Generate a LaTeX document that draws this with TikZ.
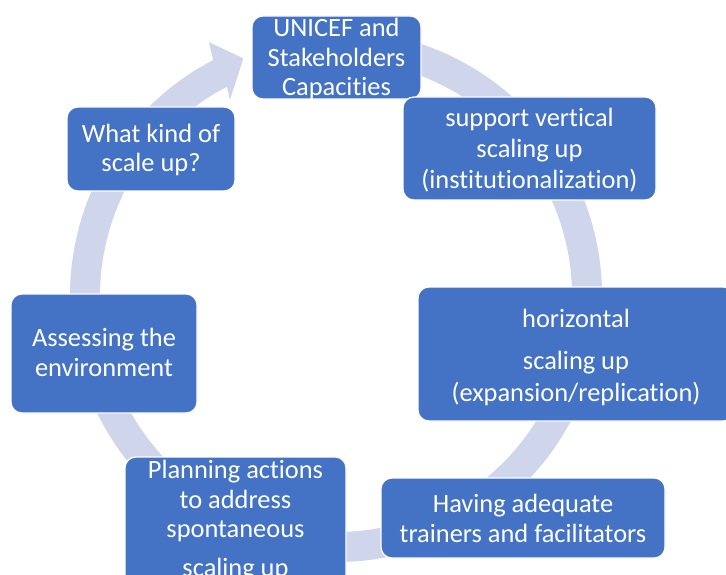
\documentclass[tikz,border=0pt]{standalone}
\usepackage{fontspec}
\setmainfont{Carlito}[Ligatures=NoCommon]
\usetikzlibrary{calc}
\definecolor{boxblue}{HTML}{4472C4}
\definecolor{ringlav}{HTML}{CFD5EA}
\begin{document}
\begin{tikzpicture}[x=1pt,y=1pt,
  stage/.style={draw=white, line width=1.2pt, fill=boxblue, rounded corners=11pt, inner sep=0pt},
  stagetext/.style={text=white, align=center, inner sep=0pt,
    font=\fontsize{26.4}{29.5}\selectfont},
  ring/.style={fill=ringlav}]
\clip (0,0) rectangle (726,-575);
% circular arrow behind the stages
\coordinate (c) at (336,-296);
\fill[ring] ($(c)+(78:266)$) arc[start angle=78, end angle=-242.5, radius=266]
  -- ($(c)+(-243.4:284)$) -- ($(c)+(-248.7:255)$) -- ($(c)+(-241.6:223)$)
  -- ($(c)+(-242.5:236)$) arc[start angle=-242.5, end angle=78, radius=236] -- cycle;
% stages
\node[stage, minimum width=169pt, minimum height=83pt] (unicef) at (336.5,-57.5) {};
\node[stagetext] (unicef-t) at (336.5,-59) {UNICEF and\\Stakeholders\\Capacities};
\node[stage, minimum width=253pt, minimum height=103pt] (vert) at (529.5,-148.5) {};
\node[stagetext, font=\fontsize{26.4}{31}\selectfont] (vert-t) at (529.5,-150) {support vertical\\scaling up\\(institutionalization)};
\node[stage, minimum width=316pt, minimum height=134pt] (horiz) at (576,-354) {};
\node[stagetext, font=\fontsize{26.4}{32}\selectfont] (horiz-t) at (576,-357) {horizontal\\[10pt]scaling up\\(expansion/replication)};
\node[stage, minimum width=284pt, minimum height=80pt] (train) at (523,-518) {};
\node[stagetext] (train-t) at (523,-518.5) {Having adequate\\trainers and facilitators};
\node[stage, minimum width=221pt, minimum height=150pt] (plan) at (235.5,-532) {};
\node[stagetext, anchor=north] (plan-t) at (235.5,-460) {Planning actions\\to address\\spontaneous\\[9pt]scaling up};
\node[stage, minimum width=186pt, minimum height=119pt] (env) at (104,-353.5) {};
\node[stagetext] (env-t) at (104,-352.5) {Assessing the\\environment};
\node[stage, minimum width=168pt, minimum height=84pt] (kind) at (151,-149) {};
\node[stagetext] (kind-t) at (151,-150) {What kind of\\scale up?};
\end{tikzpicture}
\end{document}
